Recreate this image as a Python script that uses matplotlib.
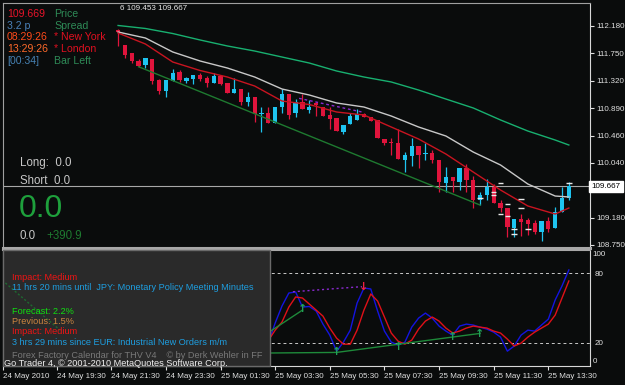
import numpy as np
import matplotlib.pyplot as plt
from matplotlib.patches import Rectangle

plt.rcParams['font.family'] = ['Liberation Sans', 'DejaVu Sans']

# 15-minute bars, bar 0 = 24 May 21:45
opens = [112.117, 111.882, 111.752, 111.636, 111.569, 111.663, 111.334, 111.162, 111.323, 111.455,
         111.318, 111.350, 111.412, 111.361, 111.292, 111.397, 111.282, 111.135, 111.193, 110.985,
         111.063, 110.797, 110.822, 110.656, 110.906, 111.115, 110.812, 110.985, 110.864, 110.969,
         110.916, 110.786, 110.734, 110.524, 110.640, 110.708, 110.802, 110.750, 110.708, 110.405,
         110.363, 110.352, 110.081, 110.144, 110.300, 110.170, 110.186, 110.081, 109.726, 109.810,
         109.741, 109.951, 109.768, 109.455, 109.533, 109.663, 109.403, 109.325, 109.011, 109.152,
         109.141, 109.090, 108.958, 109.130, 109.011, 109.271, 109.481]
highs = [112.133, 111.882, 111.762, 111.658, 111.674, 111.663, 111.354, 111.334, 111.502, 111.491,
         111.376, 111.412, 111.448, 111.397, 111.448, 111.397, 111.282, 111.358, 111.193, 111.151,
         111.063, 110.911, 110.906, 110.906, 111.188, 111.115, 111.032, 111.115, 111.021, 110.985,
         110.916, 110.916, 110.744, 110.629, 110.812, 110.875, 110.812, 110.750, 110.708, 110.405,
         110.421, 110.562, 110.211, 110.421, 110.300, 110.343, 110.238, 110.081, 109.976, 109.810,
         109.951, 110.018, 109.830, 109.585, 109.779, 109.700, 109.455, 109.325, 109.152, 109.235,
         109.168, 109.141, 109.130, 109.193, 109.350, 109.658, 109.732]
lows = [111.867, 111.674, 111.605, 111.542, 111.527, 111.271, 111.115, 111.072, 111.323, 111.307,
        111.292, 111.271, 111.323, 111.220, 111.292, 111.251, 111.135, 111.135, 110.942, 110.927,
        110.681, 110.524, 110.656, 110.656, 110.822, 110.719, 110.759, 110.875, 110.822, 110.775,
        110.775, 110.562, 110.540, 110.488, 110.640, 110.708, 110.750, 110.697, 110.421, 110.316,
        110.159, 110.092, 109.898, 109.987, 109.951, 110.081, 110.029, 109.585, 109.585, 109.585,
        109.611, 109.585, 109.325, 109.376, 109.455, 109.403, 109.266, 108.880, 108.880, 108.891,
        108.906, 108.922, 108.817, 108.958, 109.011, 109.271, 109.455]
closes = [112.086, 111.726, 111.632, 111.558, 111.674, 111.323, 111.162, 111.334, 111.439, 111.334,
          111.361, 111.412, 111.350, 111.292, 111.401, 111.271, 111.135, 111.193, 110.985, 111.063,
          110.797, 110.822, 110.656, 110.906, 111.115, 110.786, 110.985, 110.875, 110.916, 110.942,
          110.775, 110.719, 110.540, 110.629, 110.775, 110.802, 110.750, 110.697, 110.421, 110.352,
          110.343, 110.092, 110.159, 110.300, 110.159, 110.186, 110.081, 109.741, 109.810, 109.757,
          109.951, 109.768, 109.455, 109.533, 109.654, 109.403, 109.325, 109.036, 109.152, 109.115,
          109.079, 108.958, 109.130, 109.000, 109.271, 109.481, 109.667]

# moving averages read every 4 bars
ma_idx = [0, 4, 8, 12, 16, 20, 24, 28, 32, 36, 40, 44, 48, 52, 56, 60, 64, 66]
ma_slow = [112.188, 112.141, 112.062, 111.961, 111.867, 111.788, 111.694, 111.600, 111.475, 111.381,
           111.303, 111.177, 111.036, 110.896, 110.708, 110.535, 110.394, 110.316]
ma_mid = [112.086, 111.992, 111.773, 111.632, 111.522, 111.381, 111.193, 111.099, 110.974, 110.911,
          110.770, 110.598, 110.457, 110.206, 110.003, 109.705, 109.517, 109.502]
ma_fast = [112.070, 111.898, 111.616, 111.483, 111.381, 111.240, 111.005, 110.950, 110.833, 110.786,
           110.598, 110.410, 110.175, 109.893, 109.611, 109.361, 109.235, 109.329]

trend_x = [3, 53]
trend_y = [111.542, 109.376]
purple_x = [26.5, 35.7]
purple_y = [111.047, 110.833]

mark_idx = [53, 55, 55, 56, 56, 57, 57, 58, 58, 59, 59, 60, 66]
mark_px = [109.481, 109.580, 109.533, 109.726, 109.231, 109.392, 109.204, 108.996, 108.922,
           109.466, 109.325, 108.996, 109.726]

bid = 109.667
price_ticks = [112.180, 111.750, 111.320, 110.890, 110.460, 110.040, 109.180, 108.750]

# stochastic
st_idx = list(range(22, 67))
st_k = [20.0, 37.0, 51.7, 62.9, 63.8, 50.8, 51.3, 47.4, 36.1, 26.6,
        12.8, 20.6, 30.9, 54.3, 67.2, 66.4, 47.4, 30.1, 20.6, 18.0,
        20.6, 33.5, 41.3, 45.6, 41.3, 34.4, 30.1, 26.6, 34.4, 36.1,
        35.3, 33.5, 31.8, 29.2, 24.9, 12.8, 17.2, 26.6, 30.9, 30.1,
        35.3, 40.4, 56.9, 69.0, 82.8]
st_d = [22.0, 30.9, 37.9, 50.8, 59.5, 58.6, 53.4, 48.2, 43.0, 32.7,
        24.0, 18.8, 18.8, 30.9, 48.2, 62.1, 56.0, 42.2, 28.4, 21.4,
        18.8, 22.3, 31.8, 38.7, 42.2, 38.7, 32.7, 28.4, 30.1, 32.7,
        34.4, 33.5, 32.7, 30.1, 28.4, 23.2, 17.2, 19.7, 24.9, 29.2,
        32.7, 36.1, 43.9, 58.6, 73.3]
st_lines = [([10.1, 32], [10.6, 11.7]), ([32, 53], [11.7, 28.1]), ([17.4, 27], [10.9, 48.2])]
st_dotted_x = [-16.5, -8.5]
st_dotted_y = [71.6, 30.9]
up_idx = [27, 32, 41, 49, 53]
up_val = [49, 12, 16.5, 25, 28]
dn_idx = [36]
dn_val = [68.4]
st_purple_x = [25.6, 35.7]
st_purple_y = [64, 68.4]

time_pos = [-16.85, -9, -1, 7, 15, 23, 31, 39, 47, 55, 63]
time_lab = ['24 May 2010', '24 May 19:30', '24 May 21:30', '24 May 23:30', '25 May 01:30',
            '25 May 03:30', '25 May 05:30', '25 May 07:30', '25 May 09:30', '25 May 11:30',
            '25 May 13:30']

BG = '#0a0c0c'
UP = '#1ec4f0'
DN = '#e0143c'
W, H = 625, 385
FS = 5.8


def px(x, y):
    return x / W, 1 - y / H


fig = plt.figure(figsize=(6.25, 3.85), dpi=100, facecolor=BG)
ax = fig.add_axes([3 / W, 1 - 248 / H, 587 / W, 245 / H], facecolor=BG)
ax2 = fig.add_axes([3 / W, 1 - 366 / H, 587 / W, 116 / H], facecolor=BG, sharex=ax)

# candles
o = np.array(opens); c = np.array(closes)
x = np.arange(len(o))
col = np.where(c >= o, UP, DN)
ax.vlines(x, lows, highs, colors=col, lw=0.9, zorder=2)
body = np.maximum(np.abs(c - o), 0.012)
ax.bar(x, body, bottom=np.minimum(o, c), width=0.63, color=col, lw=0, zorder=3)

ax.plot(ma_idx, ma_slow, color='#18b070', lw=1.0, zorder=4)
ax.plot(ma_idx, ma_mid, color='#c8c8c8', lw=1.0, zorder=4)
ax.plot(ma_idx, ma_fast, color='#c81420', lw=1.0, zorder=4)
ax.plot(trend_x, trend_y, color='#1e7a30', lw=1.0, zorder=4)
ax.plot(purple_x, purple_y, color='#8a2ad0', lw=1.0, ls=(0, (2, 2)), zorder=4)
ax.hlines(mark_px, np.array(mark_idx) - 0.4, np.array(mark_idx) + 0.4, colors='#e8e8e8', lw=1.0, zorder=5)
ax.axhline(bid, color='#a8a8a8', lw=0.8, zorder=1)

ax.set_xlim(-16.85, 69.1)
ax.set_ylim(108.703, 112.540)
ax.yaxis.tick_right()
ax.set_yticks(price_ticks, [f'{v:.3f}' for v in price_ticks])
ax.tick_params(axis='y', colors='#e0e0e0', labelsize=FS, length=3, pad=1.5, width=0.8)
ax.tick_params(axis='x', bottom=False, labelbottom=False)
ax.text(1.002, bid, '109.667', transform=ax.get_yaxis_transform(), color='black', fontsize=FS,
        ha='left', va='center', bbox=dict(boxstyle='square,pad=0.3', fc='white', ec='white'), zorder=10,
        clip_on=False)
for s in ['left', 'top']:
    ax.spines[s].set_color('#a0a0a0')
ax.spines['right'].set_color('#d8d8d8')
ax.spines['right'].set_linewidth(0.8)
ax.spines['bottom'].set_color('#a8a8a8')
ax.spines['bottom'].set_linewidth(2.2)

# stochastic panel
ax2.axhline(80, color='#c8c8c8', lw=0.7, ls=(0, (3, 3)))
ax2.axhline(20, color='#c8c8c8', lw=0.7, ls=(0, (3, 3)))
ax2.plot(st_idx, st_k, color='#1414e0', lw=1.0)
ax2.plot(st_idx, st_d, color='#e01018', lw=1.0)
for lx, ly in st_lines:
    ax2.plot(lx, ly, color='#1e8a3a', lw=1.0)
ax2.plot(st_purple_x, st_purple_y, color='#8a2ad0', lw=1.0, ls=(0, (1.5, 2)))
for i, v in zip(up_idx, up_val):
    ax2.text(i, v, '↑', color='#20a058', fontsize=8, ha='center', va='center', fontweight='bold',
             family=['DejaVu Sans'])
for i, v in zip(dn_idx, dn_val):
    ax2.text(i, v, '↓', color='#f02040', fontsize=8, ha='center', va='center', fontweight='bold',
             family=['DejaVu Sans'])
ax2.set_ylim(0, 100)
ax2.yaxis.tick_right()
ax2.set_yticks([80, 20], ['80', '20'])
ax2.tick_params(axis='y', colors='#e0e0e0', labelsize=FS, length=0, pad=3)
ax2.text(1.004, 95.7, '100', transform=ax2.get_yaxis_transform(), color='#e0e0e0', fontsize=FS, va='center')
ax2.text(1.004, 4.3, '0', transform=ax2.get_yaxis_transform(), color='#e0e0e0', fontsize=FS, va='center')
ax2.set_xticks(time_pos, time_lab)
ax2.tick_params(axis='x', colors='#e0e0e0', labelsize=FS, length=3, pad=2, width=0.8, direction='out')
for t in ax2.get_xticklabels():
    t.set_ha('left')
ax2.spines['top'].set_color('#a8a8a8')
ax2.spines['top'].set_linewidth(1.5)
ax2.spines['left'].set_color('#a0a0a0')
ax2.spines['right'].set_color('#d8d8d8')
ax2.spines['bottom'].set_color('#d8d8d8')
for s in ['right', 'bottom']:
    ax2.spines[s].set_linewidth(0.8)

# news box over the stochastic panel
ax2.add_patch(Rectangle((0, 0), 267 / 587, 1, transform=ax2.transAxes, fc='#2a2a2a', ec='#6a6a6a',
                        lw=1.0, zorder=6, clip_on=False))
ax2.plot(st_dotted_x, st_dotted_y, color='#1e6a30', lw=1.0, ls=(0, (1.5, 1.5)), zorder=7)

# left info texts
rows = [('109.669', '#e8142a', 'Price', 14), ('3.2 p', '#4a80b8', 'Spread', 26),
        ('08:29:26', '#ff4a1a', '* New York', 37.5), ('13:29:26', '#ff6a2a', '* London', 49.5),
        ('[00:34]', '#4682b4', 'Bar Left', 61.5)]
for val, vc, lab, y in rows:
    fig.text(*px(7, y), val, color=vc, fontsize=7.6, va='center')
    lc = '#e01020' if lab.startswith('*') else '#2e8b57'
    fig.text(*px(54, y), lab, color=lc, fontsize=7.6, va='center')

fig.text(*px(120, 9), '6 109.453 109.667', color='#e8e8e8', fontsize=FS, va='center')
fig.text(*px(20, 163), 'Long:  0.0', color='#c8c8c8', fontsize=8.3, va='center')
fig.text(*px(20, 181), 'Short  0.0', color='#c8c8c8', fontsize=8.3, va='center')
fig.text(*px(19, 209), '0.0', color='#1ea03c', fontsize=23, va='center')
fig.text(*px(20, 236), '0.0', color='#c8c8c8', fontsize=8.3, va='center')
fig.text(*px(46, 236), '+390.9', color='#1e7a30', fontsize=8.3, va='center')

news = [('Impact: Medium', '#f01414', 277.5),
        ('11 hrs 20 mins until  JPY: Monetary Policy Meeting Minutes', '#1e9ee0', 288),
        ('Forecast: 2.2%', '#10e010', 311.5),
        ('Previous: 1.5%', '#cd853f', 321.5),
        ('Impact: Medium', '#f01414', 332),
        ('3 hrs 29 mins since EUR: Industrial New Orders m/m', '#1e9ee0', 342.5),
        ('Forex Factory Calendar for THV V4    \u00a9 by Derk Wehler in FF', '#787878', 355.5)]
for txt, tc, y in news:
    fig.text(*px(12, y), txt, color=tc, fontsize=6.6, va='center', zorder=7)
fig.text(*px(4, 363), 'Go Trader 4, \u00a9 2001-2010 MetaQuotes Software Corp.', color='#f0f0f0',
         fontsize=6.6, va='center', zorder=7)

fig.savefig('out.png', dpi=100, facecolor=BG)
